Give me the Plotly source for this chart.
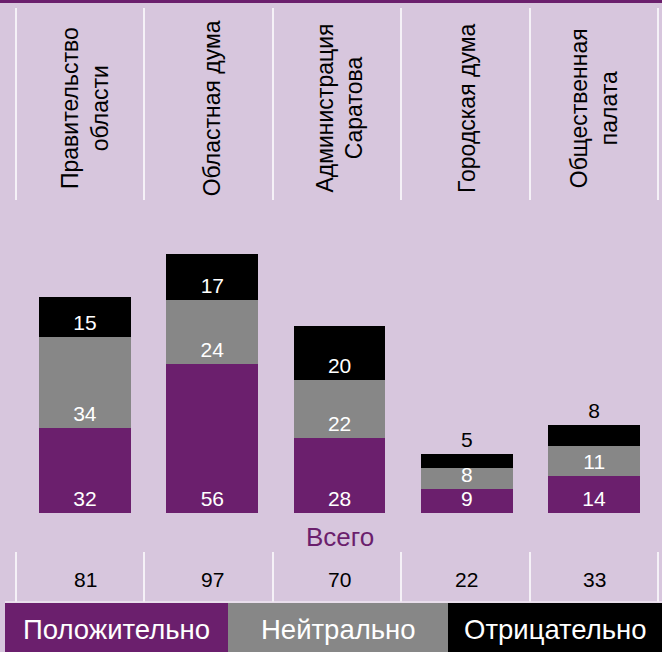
import plotly.graph_objects as go

# ---- data ----
categories = ["Правительство<br>области", "Областная дума", "Администрация<br>Саратова",
              "Городская дума", "Общественная<br>палата"]
positive = [32, 56, 28, 9, 14]
neutral = [34, 24, 22, 8, 11]
negative = [15, 17, 20, 5, 8]
series_names = ["Положительно", "Нейтрально", "Отрицательно"]
total_label = "Всего"

# ---- style ----
W, H = 662, 652
BG = "#d7c6dd"
PURPLE = "#6b1f6d"
GREY = "#878787"
BLACK = "#000000"
FONT = "Liberation Sans, Arial, sans-serif"

px_per_cat = 127.3
x0px = 85.0
base_px = 513.0
px_per_unit = 2.667
xrange = [-x0px / px_per_cat, (W - x0px) / px_per_cat]
yrange = [-(H - base_px) / px_per_unit, base_px / px_per_unit]


def px(p):
    return p / W


def py(p):
    return 1 - p / H


fig = go.Figure()

neg_textpos = ["inside", "inside", "inside", "outside", "outside"]
for name, vals, col, tpos in [
    (series_names[0], positive, PURPLE, "inside"),
    (series_names[1], neutral, GREY, "inside"),
    (series_names[2], negative, BLACK, neg_textpos),
]:
    fig.add_trace(go.Bar(
        x=categories, y=vals, name=name, marker=dict(color=col, line=dict(width=0)),
        width=0.72, text=[str(v) for v in vals], textposition=tpos, textangle=0,
        insidetextanchor="start", constraintext="none",
        insidetextfont=dict(color="white", size=21, family=FONT),
        outsidetextfont=dict(color="black", size=21, family=FONT),
        cliponaxis=False, showlegend=False,
    ))

shapes = []
# top stripe
shapes.append(dict(type="rect", xref="paper", yref="paper", x0=0, x1=1, y0=py(3), y1=1,
                   fillcolor=PURPLE, line=dict(width=0), layer="below"))
# column separators
for xp in [16, 144, 273, 401, 530, 658]:
    shapes.append(dict(type="line", xref="paper", yref="paper", x0=px(xp), x1=px(xp),
                       y0=py(8), y1=py(200), line=dict(color="white", width=1.5), layer="below"))
    shapes.append(dict(type="line", xref="paper", yref="paper", x0=px(xp), x1=px(xp),
                       y0=py(552), y1=py(602), line=dict(color="white", width=1.5), layer="below"))
shapes.append(dict(type="line", xref="paper", yref="paper", x0=px(5), x1=1,
                   y0=py(602), y1=py(602), line=dict(color="#efe6f1", width=1.5)))

annotations = []
for cat in categories:
    annotations.append(dict(x=cat, xref="x", y=py(108), yref="paper", text=cat, textangle=-90,
                            showarrow=False, xanchor="center", yanchor="middle",
                            font=dict(size=23, color="black", family=FONT)))
annotations.append(dict(x=categories[2], xref="x", y=py(537), yref="paper", text=total_label,
                        showarrow=False, xanchor="center", yanchor="middle",
                        font=dict(size=26, color=PURPLE, family=FONT)))
for cat, a, b, c in zip(categories, positive, neutral, negative):
    annotations.append(dict(x=cat, xref="x", y=py(579), yref="paper", text=str(a + b + c),
                            showarrow=False, xanchor="center", yanchor="middle",
                            font=dict(size=21, color="black", family=FONT)))

# legend boxes
legend_boxes = [(5, 228, PURPLE), (228, 448, GREY), (448, 662, BLACK)]
for name, (a, b, col) in zip(series_names, legend_boxes):
    shapes.append(dict(type="rect", xref="paper", yref="paper", x0=px(a), x1=px(b),
                       y0=0, y1=py(603), fillcolor=col, line=dict(width=0)))
    annotations.append(dict(x=px((a + b) / 2), xref="paper", y=py(629), yref="paper", text=name,
                            showarrow=False, xanchor="center", yanchor="middle",
                            font=dict(size=27.5, color="white", family=FONT)))

fig.update_layout(
    width=W, height=H, margin=dict(l=0, r=0, t=0, b=0),
    paper_bgcolor=BG, plot_bgcolor=BG, barmode="stack", bargap=0.28,
    xaxis=dict(range=xrange, visible=False, type="category"),
    yaxis=dict(range=yrange, visible=False),
    shapes=shapes, annotations=annotations, font=dict(family=FONT),
)

fig.write_html("out.html", config={"displayModeBar": False},
               post_script="document.body.style.margin='0';document.body.style.overflow='hidden';")
